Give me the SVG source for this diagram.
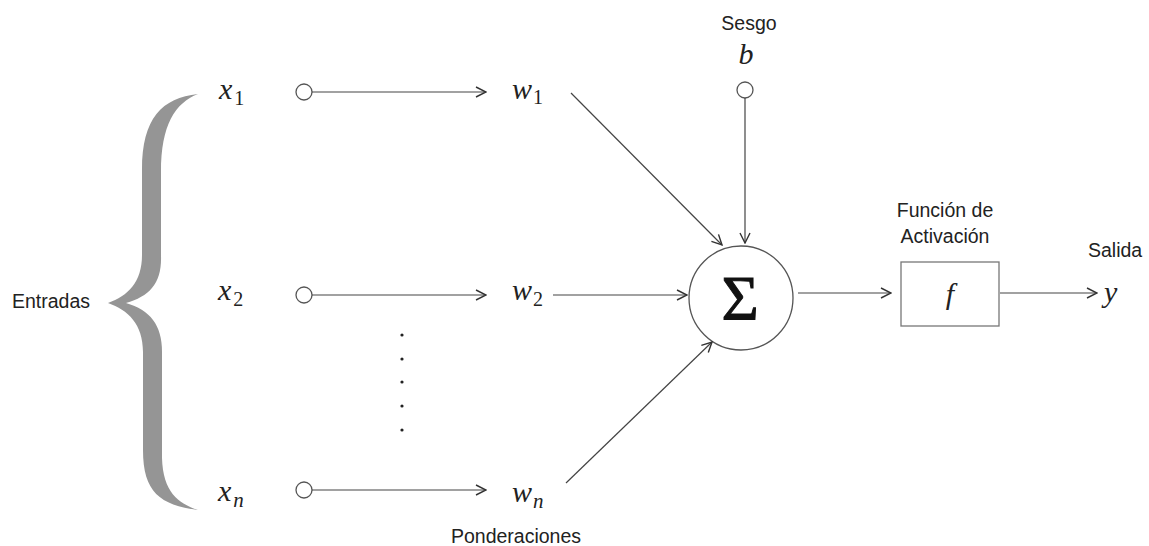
<svg xmlns="http://www.w3.org/2000/svg" width="1149" height="546" viewBox="0 0 1149 546">
<style>
.lbl{font-family:"Liberation Sans",Arial,sans-serif;font-size:19.5px;fill:#222}
.m{font-family:"Liberation Serif","DejaVu Serif",serif;font-style:italic;font-size:30px;fill:#222}
.sub{font-family:"Liberation Serif","DejaVu Serif",serif;font-style:normal;font-size:20px}
.subi{font-family:"Liberation Serif","DejaVu Serif",serif;font-style:italic;font-size:21px}
.ln{stroke:#444;stroke-width:1.2;fill:none}
.node{fill:#fff;stroke:#555;stroke-width:1.3}
</style>
<defs>
<marker id="ah" viewBox="0 0 12 12" refX="11" refY="6" markerWidth="12" markerHeight="12" markerUnits="userSpaceOnUse" orient="auto">
<polyline points="1,1 11,6 1,11" fill="none" stroke="#333" stroke-width="1.4"/>
</marker>
</defs>
<rect width="1149" height="546" fill="#fff"/>
<g id="brace">
<path d="M198,94 C162,98 142,118 142,170 L142,255 C142,282 128,296 108,303 C128,310 143,324 143,352 L143,450 C143,492 160,505 198,510 C178,503 163,492 162,458 L162,352 C162,325 150,310 126,303 C150,296 162,283 161,255 L161,172 C161,125 175,103 198,94 Z" fill="#959595"/>
</g>
<g id="entradas"><text class="lbl" x="12" y="308">Entradas</text></g>
<g id="x1"><text class="m" x="219" y="99">x<tspan class="sub" dx="2" dy="6">1</tspan></text></g>
<g id="x2"><text class="m" x="218" y="300">x<tspan class="sub" dx="2" dy="6">2</tspan></text></g>
<g id="xn"><text class="m" x="218" y="501">x<tspan class="subi" dx="2" dy="6">n</tspan></text></g>
<g id="in1"><circle class="node" cx="304" cy="92" r="8"/></g>
<g id="in2"><circle class="node" cx="304" cy="295" r="8"/></g>
<g id="inn"><circle class="node" cx="304" cy="490" r="8"/></g>
<g id="w1"><text class="m" x="512" y="99">w<tspan class="sub" dx="1" dy="5">1</tspan></text></g>
<g id="w2"><text class="m" x="512" y="300">w<tspan class="sub" dx="1" dy="6">2</tspan></text></g>
<g id="wn"><text class="m" x="512" y="502">w<tspan class="subi" dx="1" dy="6">n</tspan></text></g>
<g id="dots" fill="#222">
<circle cx="402" cy="335" r="1.6"/><circle cx="402" cy="359" r="1.6"/><circle cx="402" cy="382" r="1.6"/><circle cx="402" cy="406" r="1.6"/><circle cx="402" cy="430" r="1.6"/>
</g>
<g id="ponderaciones"><text class="lbl" x="516" y="543" text-anchor="middle">Ponderaciones</text></g>
<g id="sesgo"><text class="lbl" x="749" y="30" text-anchor="middle">Sesgo</text><text class="m" x="746" y="64" text-anchor="middle">b</text></g>
<g id="bias"><circle class="node" cx="745" cy="90" r="8"/></g>
<g id="sum"><circle class="node" cx="741" cy="298" r="52"/><text x="740" y="320" text-anchor="middle" font-family="'Liberation Serif','DejaVu Serif',serif" font-size="64" fill="#111" stroke="#111" stroke-width="1">Σ</text></g>
<g id="funcion"><text class="lbl" x="945" y="217" text-anchor="middle">Función de</text><text class="lbl" x="945" y="243" text-anchor="middle">Activación</text></g>
<g id="f"><rect x="901" y="262" width="98" height="64" fill="#fff" stroke="#777" stroke-width="1.3"/><text class="m" x="950" y="304" text-anchor="middle">f</text></g>
<g id="salida"><text class="lbl" x="1088" y="257">Salida</text></g>
<g id="y"><text class="m" x="1104" y="302">y</text></g>
<g id="connectors" class="ln">
<line x1="312" y1="92" x2="486" y2="92" marker-end="url(#ah)"/>
<line x1="312" y1="295" x2="486" y2="295" marker-end="url(#ah)"/>
<line x1="312" y1="490" x2="486" y2="490" marker-end="url(#ah)"/>
<line x1="571" y1="93" x2="722" y2="245" marker-end="url(#ah)"/>
<line x1="553" y1="295" x2="687" y2="295" marker-end="url(#ah)"/>
<line x1="566" y1="483" x2="712" y2="342" marker-end="url(#ah)"/>
<line x1="745" y1="98" x2="745" y2="243" marker-end="url(#ah)"/>
<line x1="798" y1="293" x2="891" y2="293" marker-end="url(#ah)"/>
<line x1="1000" y1="293" x2="1097" y2="293" marker-end="url(#ah)"/>
</g>
</svg>
